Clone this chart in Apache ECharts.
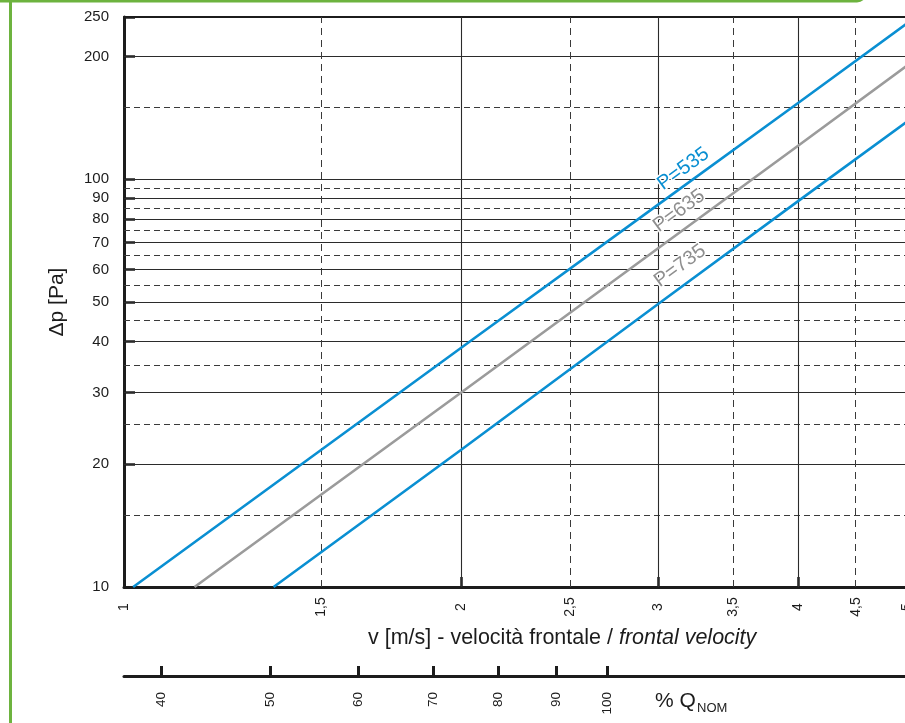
<!DOCTYPE html>
<html>
<head>
<meta charset="utf-8">
<script src="https://cdn.jsdelivr.net/npm/echarts@6/dist/echarts.min.js"></script>
<style>
html,body{margin:0;padding:0;background:#fff;overflow:hidden;}
#chart{width:905px;height:723px;}
</style>
</head>
<body>
<div id="chart"></div>
<script>
// ---- data ----
const vTickLabels = [1, 1.5, 2, 2.5, 3, 3.5, 4, 4.5, 5];
const vMajorLines = [2, 3, 4];
const vMinorLines = [1.5, 2.5, 3.5, 4.5];
const dpTickLabels = [10, 20, 30, 40, 50, 60, 70, 80, 90, 100, 200, 250];
const dpMajorLines = [20, 30, 40, 50, 70, 80, 90, 100, 200];
const dpPartialLines = [60];          // ends at v = 3
const dpMinorLines = [15, 25, 35, 45, 55, 65, 75, 85, 95, 150];
const qTickLabels = [40, 50, 60, 70, 80, 90, 100];
const vNominal = 2.7;                 // velocity at 100 % Q_NOM

const seriesNames = ['P=535', 'P=635', 'P=735'];
const p535 = [[1.019, 10], [2, 38.6], [3, 86.8], [4, 154], [5, 241]];
const p635 = [[1.156, 10], [2, 30], [3, 67.8], [4, 121], [5, 190]];
const p735 = [[1.36, 10], [2, 21.7], [3, 49.5], [4, 88.5], [5, 138.5]];
// label anchor (label centre) in data coordinates
const labelAnchors = [[3.157, 106], [3.13, 83.6], [3.136, 61.3]];

const FONT = "'Liberation Sans', Arial, Helvetica, sans-serif";
const BLUE = '#0a8fd2';
const GRAY = '#9b9b9b';
const INK = '#1c1c1c';
const GREEN = '#6db33f';

const chart = echarts.init(document.getElementById('chart'), null, {renderer: 'canvas'});

const solid = {type: 'solid', color: '#2b2b2b', width: 1.1};
const dashed = {type: [6, 4], color: '#3a3a3a', width: 1};

const gridLines = [];
dpMajorLines.forEach(v => gridLines.push({yAxis: v, lineStyle: solid}));
dpMinorLines.forEach(v => gridLines.push({yAxis: v, lineStyle: dashed}));
vMajorLines.forEach(v => gridLines.push({xAxis: v, lineStyle: solid}));
vMinorLines.forEach(v => gridLines.push({xAxis: v, lineStyle: {type: [7, 5], color: '#3a3a3a', width: 1}}));
dpPartialLines.forEach(v => gridLines.push([{coord: [vTickLabels[0], v], lineStyle: solid}, {coord: [3, v]}]));

function curve(name, data, color, labelColor, anchor) {
  return {
    name, type: 'line', data, xAxisIndex: 0, yAxisIndex: 0,
    showSymbol: false, symbol: 'none', z: 5,
    lineStyle: {color, width: 2.6},
    markPoint: {
      symbol: 'circle', symbolSize: 0, silent: true, animation: false,
      data: [{coord: anchor, value: name}],
      label: {
        show: true, position: 'inside', formatter: name, rotate: 36,
        color: labelColor, fontFamily: FONT, fontSize: 20,
        textBorderColor: '#fff', textBorderWidth: 3
      }
    }
  };
}

const option = {
  animation: false,
  backgroundColor: '#fff',
  grid: {left: 124, top: 17, width: 783, height: 570, containLabel: false, outerBoundsMode: 'none'},
  xAxis: [
    {
      type: 'log', logBase: 10, min: 1, max: 5, position: 'bottom',
      axisLine: {show: true, lineStyle: {color: INK, width: 3}},
      axisTick: {show: true, inside: true, length: 10, customValues: vMajorLines, lineStyle: {color: INK, width: 2.5}},
      axisLabel: {
        show: true, customValues: vTickLabels, rotate: 90, margin: 20,
        align: 'center', verticalAlign: 'middle',
        fontFamily: FONT, fontSize: 14, color: INK,
        formatter: v => String(v).replace('.', ',')
      },
      splitLine: {show: false}, minorTick: {show: false}
    },
    {
      type: 'log', logBase: 10, min: 100 / vNominal, max: 5 * 100 / vNominal,
      position: 'bottom', offset: 89,
      axisLine: {show: true, lineStyle: {color: INK, width: 3}},
      axisTick: {show: true, inside: true, length: 10, customValues: qTickLabels, lineStyle: {color: INK, width: 3}},
      axisLabel: {
        show: true, customValues: qTickLabels, rotate: 90, margin: 16,
        fontFamily: FONT, fontSize: 13.5, color: INK
      },
      splitLine: {show: false}
    },
    {
      type: 'log', logBase: 10, min: 1, max: 5, position: 'top',
      axisLine: {show: true, lineStyle: {color: INK, width: 2}},
      axisTick: {show: false}, axisLabel: {show: false}, splitLine: {show: false}
    }
  ],
  yAxis: [
    {
      type: 'log', logBase: 10, min: 10, max: 250,
      name: 'Δp [Pa]', nameLocation: 'middle', nameGap: 56,
      nameTextStyle: {fontFamily: FONT, fontSize: 21, color: INK},
      axisLine: {show: true, lineStyle: {color: INK, width: 3}},
      axisTick: {show: true, inside: true, length: 11, customValues: dpTickLabels, lineStyle: {color: INK, width: 2.5}},
      axisLabel: {show: true, customValues: dpTickLabels, margin: 15, fontFamily: FONT, fontSize: 15, color: INK},
      splitLine: {show: false}
    }
  ],
  series: [
    {
      name: 'grid', type: 'line', data: [[1, 10]], showSymbol: false, symbol: 'none',
      lineStyle: {width: 0}, z: 1, silent: true,
      markLine: {symbol: ['none', 'none'], silent: true, animation: false, label: {show: false}, data: gridLines}
    },
    curve(seriesNames[0], p535, BLUE, BLUE, labelAnchors[0]),
    curve(seriesNames[1], p635, GRAY, '#8f8f8f', labelAnchors[1]),
    curve(seriesNames[2], p735, BLUE, '#8f8f8f', labelAnchors[2])
  ],
  graphic: [
    {type: 'rect', z: 100, shape: {x: -20, y: -30, width: 885, height: 31, r: 8}, style: {fill: null, stroke: GREEN, lineWidth: 3}},
    {type: 'rect', z: 100, shape: {x: 9, y: 0, width: 3, height: 723}, style: {fill: GREEN}},
    {
      type: 'text', z: 100, x: 368, y: 638,
      style: {
        text: '{a|v [m/s] - velocità frontale / }{b|frontal velocity}',
        verticalAlign: 'middle', align: 'left',
        rich: {
          a: {fontFamily: FONT, fontSize: 21.5, fill: INK, color: INK},
          b: {fontFamily: FONT, fontSize: 21.5, fontStyle: 'italic', fill: INK, color: INK}
        }
      }
    },
    {type: 'text', z: 100, x: 655, y: 691, style: {text: '% Q', font: '21px ' + FONT, fill: INK, verticalAlign: 'top'}},
    {type: 'text', z: 100, x: 697, y: 702, style: {text: 'NOM', font: '13px ' + FONT, fill: INK, verticalAlign: 'top'}}
  ]
};

chart.setOption(option);
</script>
</body>
</html>
